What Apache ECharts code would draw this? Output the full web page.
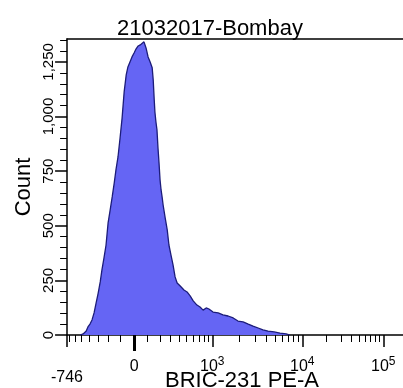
<!DOCTYPE html>
<html>
<head>
<meta charset="utf-8">
<script src="https://cdn.jsdelivr.net/npm/echarts@6/dist/echarts.min.js"></script>
<style>
  html, body { margin: 0; padding: 0; background: #fff; }
  #chart { width: 403px; height: 388px; }
</style>
</head>
<body>
<div id="chart"></div>
<script>
// histogram bins: x in display channels (0..1024), y = event count
const channels = [38, 47, 56, 61, 67, 73, 79, 85, 91, 97, 102, 108, 114, 120, 126, 132, 138, 143, 149, 155,
  161, 167, 173, 178, 184, 190, 196, 202, 208, 214, 219, 225, 231, 237, 243, 249, 252, 255, 257, 260,
  263, 266, 269, 272, 275, 278, 281, 287, 293, 298, 304, 310, 316, 322, 331, 342, 351, 360, 369, 380,
  389, 398, 407, 415, 427, 442, 456, 471, 486, 500, 515, 530, 544, 559, 573, 588, 606, 623, 641, 652];
const counts = [0, 5, 18, 37, 50, 69, 101, 147, 192, 243, 298, 353, 412, 513, 572, 632, 696, 756, 815, 902,
  994, 1113, 1191, 1227, 1250, 1273, 1291, 1310, 1323, 1328, 1332, 1342, 1314, 1273, 1250, 1223, 1168, 1076, 1021, 975,
  939, 856, 788, 710, 664, 632, 595, 536, 481, 412, 366, 321, 266, 238, 224, 206, 197, 179, 156, 137,
  128, 114, 124, 119, 105, 101, 92, 87, 78, 64, 60, 50, 41, 32, 23, 18, 14, 9, 5, 0];

// axis ticks (in fluorescence units) and labels
const xLabelValues = [-746, 0, 1000, 10000, 100000];
const xMajorTicks = [-746, 1000, 10000, 100000];
const xMinorTicks = [-700, -600, -500, -400, -300, -200, -100,
  100, 200, 300, 400, 500, 600, 700, 800, 900,
  2000, 3000, 4000, 5000, 6000, 7000, 8000, 9000,
  20000, 30000, 40000, 50000, 60000, 70000, 80000, 90000];
const yLabelValues = [0, 250, 500, 750, 1000, 1250];
const yMinorTicks = [50, 100, 150, 200, 300, 350, 400, 450, 550, 600, 650, 700, 800, 850, 900, 950,
  1050, 1100, 1150, 1200, 1300, 1350];

const FONT = 'Liberation Sans, Arial, sans-serif';

// approx. biexponential display scale -> channel (0..1024)
function toChannel(v) {
  let px;
  if (v <= 1000) {
    px = 134 + 40 * Math.asinh(v / 289);
  } else if (v <= 10000) {
    px = 134 + 40 * Math.asinh(1000 / 289) + 90 * Math.log10(v / 1000);
  } else {
    px = 134 + 40 * Math.asinh(1000 / 289) + 90 + 81 * Math.log10(v / 10000);
  }
  return (px - 67) * 1024 / 350;
}
const X_MIN = toChannel(-746);
const labelMap = {};
xLabelValues.forEach(function (v) { labelMap[toChannel(v).toFixed(3)] = v; });

function xLabel(val) {
  const v = labelMap[Number(val).toFixed(3)];
  if (v === undefined) return '';
  if (v < 0) return '{low|' + v + '}';
  if (v === 0) return '{b|0}';
  return '{b|10}{s|' + Math.round(Math.log10(v)) + '}';
}

const chart = echarts.init(document.getElementById('chart'));

const xBase = { type: 'value', position: 'bottom', min: X_MIN, max: X_MIN + 1024, splitLine: { show: false } };
const yBase = { type: 'value', position: 'left', min: 0, max: 1355, splitLine: { show: false } };

const option = {
  animation: false,
  backgroundColor: '#fff',
  title: {
    text: '21032017-Bombay',
    left: 112,
    top: 13,
    textStyle: { fontSize: 22, fontWeight: 'normal', color: '#000', fontFamily: FONT }
  },
  grid: {
    left: 67, right: -14, top: 39, bottom: 53,
    outerBoundsMode: 'none',
    containLabel: false,
    show: false
  },
  xAxis: [
    Object.assign({}, xBase, {
      name: 'BRIC-231 PE-A',
      nameLocation: 'middle',
      nameGap: 35,
      nameMoveOverlap: false,
      nameTextStyle: { fontSize: 22, color: '#000', fontFamily: FONT },
      axisLine: { show: true, lineStyle: { color: '#000', width: 1.5 } },
      axisTick: { show: true, length: 12, customValues: xMajorTicks.map(toChannel), lineStyle: { color: '#000', width: 1.5 } },
      axisLabel: {
        customValues: xLabelValues.map(toChannel),
        margin: 21,
        formatter: xLabel,
        color: '#000',
        fontFamily: FONT,
        rich: {
          b: { fontSize: 16, lineHeight: 22, fontFamily: FONT, color: '#000' },
          s: { fontSize: 12, lineHeight: 2, verticalAlign: 'top', fontFamily: FONT, color: '#000' },
          low: { fontSize: 16, lineHeight: 22, padding: [22, 0, 0, 0], fontFamily: FONT, color: '#000' }
        }
      }
    }),
    Object.assign({}, xBase, {
      axisLine: { show: false },
      axisTick: { show: true, length: 7, customValues: xMinorTicks.map(toChannel), lineStyle: { color: '#000', width: 1 } },
      axisLabel: { show: false }
    }),
    Object.assign({}, xBase, {
      axisLine: { show: false },
      axisTick: { show: true, length: 16, customValues: [toChannel(0)], lineStyle: { color: '#000', width: 3 } },
      axisLabel: { show: false }
    }),
    // frame line along the top of the plot
    Object.assign({}, xBase, {
      position: 'top',
      axisLine: { show: true, lineStyle: { color: '#000', width: 1.5 } },
      axisTick: { show: false },
      axisLabel: { show: false }
    })
  ],
  yAxis: [
    Object.assign({}, yBase, {
      name: 'Count',
      nameLocation: 'middle',
      nameGap: 32,
      nameMoveOverlap: false,
      nameTextStyle: { fontSize: 22, color: '#000', fontFamily: FONT },
      axisLine: { show: true, lineStyle: { color: '#000', width: 1.5 } },
      axisTick: { show: true, length: 12, customValues: yLabelValues, lineStyle: { color: '#000', width: 1.5 } },
      axisLabel: {
        customValues: yLabelValues,
        rotate: 90,
        margin: 11,
        fontSize: 15,
        color: '#000',
        fontFamily: FONT,
        formatter: function (v) { return v.toLocaleString('en-US'); }
      }
    }),
    Object.assign({}, yBase, {
      axisLine: { show: false },
      axisTick: { show: true, length: 7, customValues: yMinorTicks, lineStyle: { color: '#000', width: 1 } },
      axisLabel: { show: false }
    })
  ],
  series: [{
    type: 'line',
    xAxisIndex: 0,
    yAxisIndex: 0,
    data: channels.map(function (c, i) { return [c, counts[i]]; }),
    symbol: 'none',
    lineStyle: { color: '#1c1c7a', width: 1.3 },
    areaStyle: { color: '#6565f4', opacity: 1 }
  }]
};
chart.setOption(option);
</script>
</body>
</html>
